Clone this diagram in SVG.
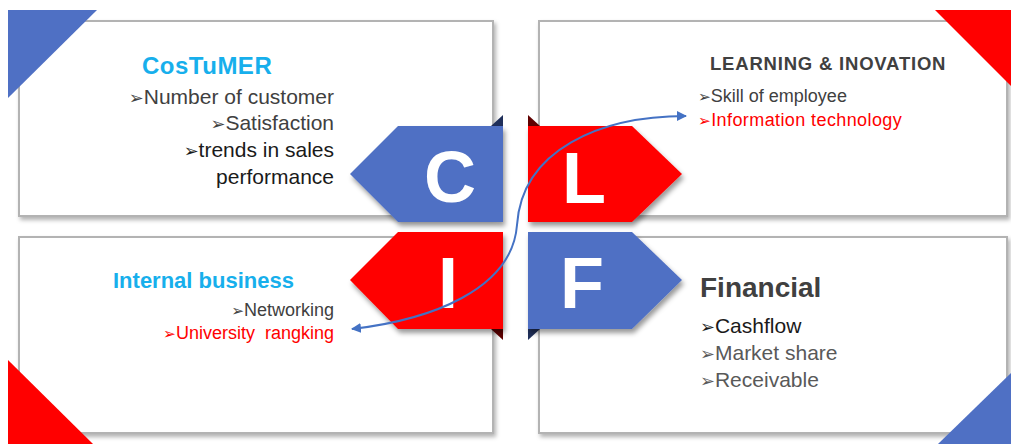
<svg xmlns="http://www.w3.org/2000/svg" width="1011" height="444" viewBox="0 0 1011 444">
<defs>
<style>
.box{fill:#fff;stroke:#B3B3B3;stroke-width:2;filter:url(#bsh)}
.blue{fill:#4F70C4}
.red{fill:#FF0000}
.arr{filter:url(#ash)}
.big{font-family:"Liberation Sans",Arial,sans-serif;font-weight:bold;font-size:72px;fill:#fff;text-anchor:middle}
.t{font-family:"Liberation Sans",Arial,sans-serif}
.b{font-weight:bold}
.lb{fill:#17AFEC}
.g{fill:#404040}
.g2{fill:#595959}
.k{fill:#1a1a1a}
.r{fill:#FF0000}
.end{text-anchor:end}
.m{font-family:"DejaVu Sans",sans-serif;font-size:0.85em}
.conn{fill:none;stroke:#4472C4;stroke-width:2}
</style>
<filter id="bsh" x="-5%" y="-5%" width="110%" height="115%">
<feDropShadow dx="2" dy="3" stdDeviation="2" flood-color="#000" flood-opacity="0.3"/>
</filter>
<filter id="ash" x="-10%" y="-10%" width="125%" height="130%">
<feDropShadow dx="2" dy="4" stdDeviation="2.5" flood-color="#000" flood-opacity="0.4"/>
</filter>
<marker id="ah" viewBox="0 0 10 10" refX="9" refY="5" markerWidth="5" markerHeight="5" orient="auto-start-reverse">
<path d="M0,0 L10,5 L0,10 Z" fill="#4472C4"/>
</marker>
</defs>
<rect width="1011" height="444" fill="#fff"/>

<g id="node-customer">
<rect class="box" x="19" y="21" width="474" height="195"/>
<polygon class="blue" points="8,10 97,10 8,98"/>
<polygon points="491,126 503,115 503,126" fill="#1F2F5A"/>
<polygon class="blue arr" points="350,174 398,126 503,126 503,222 398,222"/>
<text class="big" x="450" y="202">C</text>
<text class="t b lb" x="142" y="74" font-size="24" letter-spacing="0.5">CosTuMER</text>
<text class="t g end" x="334" y="104" font-size="21"><tspan class="m">➢</tspan>Number of customer</text>
<text class="t g end" x="334" y="130" font-size="21"><tspan class="m">➢</tspan>Satisfaction</text>
<text class="t k end" x="334" y="157" font-size="21"><tspan class="m">➢</tspan>trends in sales</text>
<text class="t k end" x="334" y="184" font-size="21">performance</text>
</g>

<g id="node-learning">
<rect class="box" x="539" y="21" width="468" height="195"/>
<polygon class="red" points="935,10 1011,10 1011,86"/>
<polygon points="528,115 540,126 528,126" fill="#600000"/>
<polygon class="red arr" points="528,126 632,126 682,174 632,222 528,222"/>
<text class="big" x="584" y="203">L</text>
<text class="t b g" x="710" y="70" font-size="18.5" letter-spacing="0.8">LEARNING &amp; INOVATION</text>
<text class="t g" x="698" y="102" font-size="18"><tspan class="m">➢</tspan>Skill of employee</text>
<text class="t r" x="698" y="126" font-size="18" letter-spacing="0.4"><tspan class="m">➢</tspan>Information technology</text>
</g>

<g id="node-internal">
<rect class="box" x="19" y="237" width="474" height="196"/>
<polygon class="red" points="8,360 8,444 93,444"/>
<polygon points="491,329 503,329 503,340" fill="#600000"/>
<polygon class="red arr" points="350,280 398,232 503,232 503,329 398,329"/>
<text class="big" x="448" y="308">I</text>
<text class="t b lb" x="113" y="288" font-size="22">Internal business</text>
<text class="t g end" x="334" y="316" font-size="18"><tspan class="m">➢</tspan>Networking</text>
<text class="t r end" x="334" y="339" font-size="18" xml:space="preserve"><tspan class="m">➢</tspan>University  rangking</text>
</g>

<g id="node-financial">
<rect class="box" x="539" y="237" width="468" height="196"/>
<polygon class="blue" points="1011,373 1011,444 938,444"/>
<polygon points="528,329 540,329 528,340" fill="#1F2F5A"/>
<polygon class="blue arr" points="528,232 632,232 682,280 632,329 528,329"/>
<text class="big" x="582" y="308">F</text>
<text class="t b g" x="700" y="297" font-size="28">Financial</text>
<text class="t k" x="700" y="333" font-size="21"><tspan class="m">➢</tspan>Cashflow</text>
<text class="t g2" x="700" y="360" font-size="21"><tspan class="m">➢</tspan>Market share</text>
<text class="t g2" x="700" y="387" font-size="21"><tspan class="m">➢</tspan>Receivable</text>
</g>

<g id="connectors">
<path class="conn" d="M352,329 C430,320 512,290 517,225 C522,150 600,116 686,116" marker-start="url(#ah)" marker-end="url(#ah)"/>
</g>
</svg>
